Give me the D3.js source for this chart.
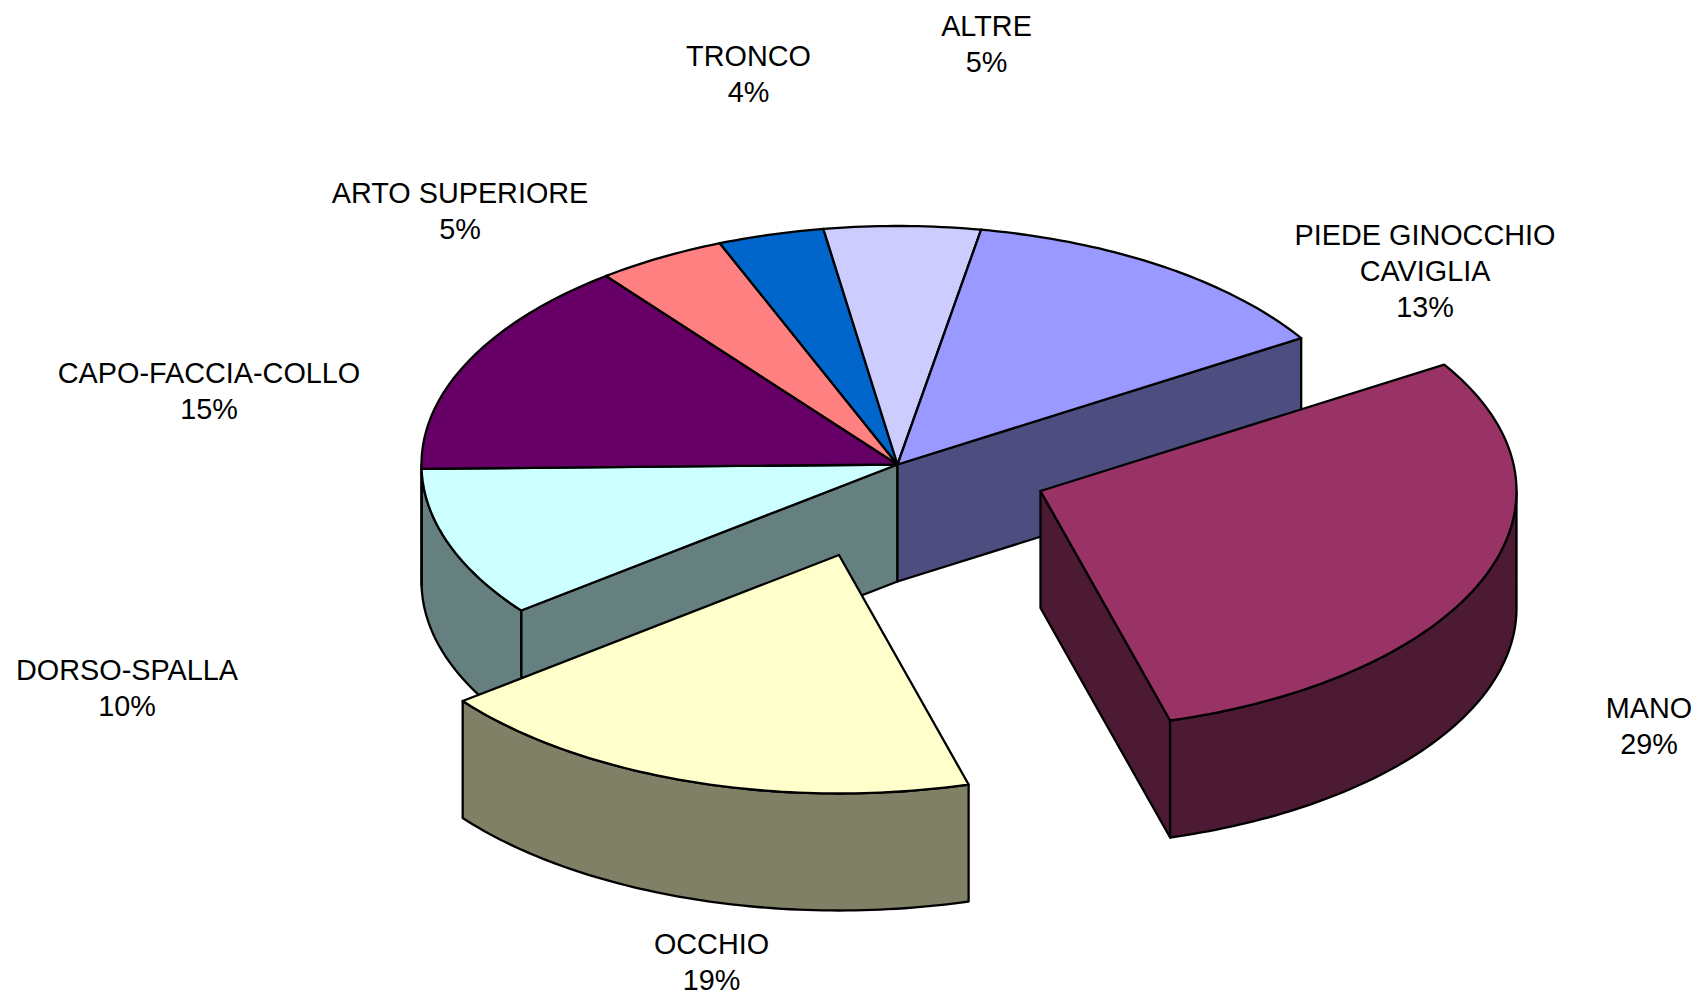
<!DOCTYPE html>
<html>
<head>
<meta charset="utf-8">
<title>Infortuni per sede</title>
<script src="https://cdn.jsdelivr.net/npm/d3@7"></script>
<style>
    html, body { margin: 0; padding: 0; background: #fff; overflow: hidden; }
    svg { display: block; }
    text { font-family: "Liberation Sans", Arial, sans-serif; font-size: 28.8px; fill: #000; }
    .face { stroke: #000; stroke-width: 2.3; stroke-linejoin: round; }
</style>
</head>
<body>
<svg id="chart" width="1708" height="1000"></svg>
<script>
// slices in drawing order, clockwise from the MANO slice
var categories = ["MANO", "OCCHIO", "DORSO-SPALLA", "CAPO-FACCIA-COLLO", "ARTO SUPERIORE", "TRONCO", "ALTRE", "PIEDE GINOCCHIO CAVIGLIA"];
// shares, the printed labels are rounded
var values = [29.5, 18.9, 10.2, 14.8, 4.4, 3.6, 5.3, 13.3];
var percentLabels = ["29%", "19%", "10%", "15%", "5%", "4%", "5%", "13%"];
var labelLines = [["MANO"], ["OCCHIO"], ["DORSO-SPALLA"], ["CAPO-FACCIA-COLLO"], ["ARTO SUPERIORE"], ["TRONCO"], ["ALTRE"], ["PIEDE GINOCCHIO", "CAVIGLIA"]];
var topColors = ["#993366", "#FFFFCC", "#CCFFFF", "#660066", "#FF8080", "#0066CC", "#CCCCFF", "#9999FF"];
var wallColors = ["#4D1A33", "#808066", "#668080", "#330033", "#804040", "#003366", "#666680", "#4D4D80"];

// layout of the tilted pie
var centerX = 897.5, centerY = 464.5, radiusX = 476, radiusY = 238.5, depth = 117;
var firstAngle = 58 * Math.PI / 180;
var explodeOffsets = [[143, 26.5], [-58.5, 90.5], null, null, null, null, null, null];
var labelAnchors = [[1649, 708], [711.5, 943.7], [127, 670], [209, 372.5], [460, 193], [748.5, 56], [986.5, 26], [1425, 235.3]];
var lineHeight = 36;

var svg = d3.select("#chart");

// unit circle to screen
var xScale = d3.scaleLinear().domain([-1, 1]).range([centerX - radiusX, centerX + radiusX]);
var yScale = d3.scaleLinear().domain([-1, 1]).range([centerY + radiusY, centerY - radiusY]);
var line = d3.line();

var pie = d3.pie().sort(null).value(function(d) { return d; })
    .startAngle(firstAngle).endAngle(firstAngle + 2 * Math.PI);

/**
 * Screen position of a point on the pie
 * @param angle clockwise from the top, in radians
 * @param r 0 for the center, 1 for the rim
 */
function project(angle, r, offset, drop) {
    return [
        xScale(r * Math.sin(angle)) + offset[0],
        yScale(r * Math.cos(angle)) + offset[1] + drop
    ];
}

function rimPoints(a0, a1, offset, drop) {
    var n = Math.max(2, Math.ceil(Math.abs(a1 - a0) / (Math.PI / 180)));
    return d3.range(n + 1).map(function(i) {
        return project(a0 + (a1 - a0) * i / n, 1, offset, drop);
    });
}

function addFace(group, points, color) {
    group.append("path")
        .attr("class", "face")
        .attr("fill", color)
        .attr("d", line(points) + "Z");
}

// flat wall along a cut, from the center out to the rim
function addCutWall(group, angle, offset, color) {
    addFace(group, [
        project(angle, 0, offset, 0),
        project(angle, 1, offset, 0),
        project(angle, 1, offset, depth),
        project(angle, 0, offset, depth)
    ], color);
}

// curved wall, only the part on the front half of the pie shows
function addRimWall(group, a0, a1, offset, color) {
    var from = Math.max(a0, Math.PI / 2);
    var to = Math.min(a1, 3 * Math.PI / 2);
    if (to <= from) {
        return;
    }
    addFace(group, rimPoints(from, to, offset, 0).concat(rimPoints(to, from, offset, depth)), color);
}

function addSliceWalls(group, d, i, offset) {
    var count = values.length;
    var a0 = d.startAngle % (2 * Math.PI);
    var a1 = a0 + (d.endAngle - d.startAngle);
    var exploded = explodeOffsets[i] !== null;

    // cut walls only show next to a gap left by an exploded slice
    if ((exploded || explodeOffsets[(i + 1) % count] !== null) && a1 < Math.PI) {
        addCutWall(group, a1, offset, wallColors[i]);
    }
    if ((exploded || explodeOffsets[(i + count - 1) % count] !== null) && a0 > Math.PI) {
        addCutWall(group, a0, offset, wallColors[i]);
    }
    addRimWall(group, a0, a1, offset, wallColors[i]);
}

function addSliceTop(group, d, i, offset) {
    var a0 = d.startAngle % (2 * Math.PI);
    var a1 = a0 + (d.endAngle - d.startAngle);
    addFace(group, [project(a0, 0, offset, 0)].concat(rimPoints(a0, a1, offset, 0)), topColors[i]);
}

var arcs = pie(values);

// slices that stay in the body first, walls under the tops
var body = svg.append("g").attr("class", "body");
arcs.forEach(function(d, i) {
    if (explodeOffsets[i] === null) {
        addSliceWalls(body, d, i, [0, 0]);
    }
});
arcs.forEach(function(d, i) {
    if (explodeOffsets[i] === null) {
        addSliceTop(body, d, i, [0, 0]);
    }
});

// exploded slices on top of the body
arcs.forEach(function(d, i) {
    if (explodeOffsets[i] !== null) {
        var group = svg.append("g").attr("class", "exploded");
        addSliceWalls(group, d, i, explodeOffsets[i]);
        addSliceTop(group, d, i, explodeOffsets[i]);
    }
});

// labels: name lines then the percentage, centered
var labels = svg.append("g").attr("class", "labels")
    .selectAll("text")
    .data(categories)
    .enter().append("text")
    .attr("text-anchor", "middle")
    .attr("transform", function(d, i) {
        return "translate(" + labelAnchors[i][0] + "," + (labelAnchors[i][1] + 10) + ")";
    });

labels.selectAll("tspan")
    .data(function(d, i) { return labelLines[i].concat(percentLabels[i]); })
    .enter().append("tspan")
    .attr("x", 0)
    .attr("y", function(d, i) { return i * lineHeight; })
    .text(function(d) { return d; });
</script>
</body>
</html>
